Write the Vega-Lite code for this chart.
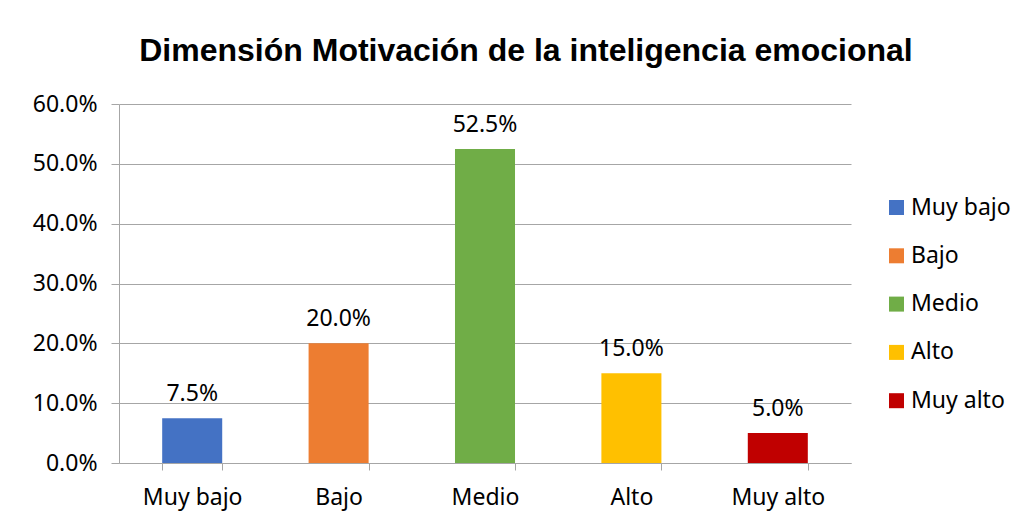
{
  "$schema": "https://vega.github.io/schema/vega-lite/v6.json",
  "autosize": "none",
  "width": 732,
  "height": 359,
  "padding": {"left": 119, "top": 104, "right": 176, "bottom": 59},
  "background": "white",
  "title": {
    "text": "Dimensión Motivación de la inteligencia emocional",
    "font": "Liberation Sans",
    "fontSize": 32,
    "fontWeight": "bold",
    "color": "#000000",
    "anchor": "middle",
    "frame": "group",
    "offset": 25,
    "dx": 41
  },
  "data": {
    "values": [
      {"categoria": "Muy bajo", "porcentaje": 0.075},
      {"categoria": "Bajo", "porcentaje": 0.20},
      {"categoria": "Medio", "porcentaje": 0.525},
      {"categoria": "Alto", "porcentaje": 0.15},
      {"categoria": "Muy alto", "porcentaje": 0.05}
    ]
  },
  "encoding": {
    "x": {
      "field": "categoria",
      "type": "nominal",
      "sort": ["Muy bajo", "Bajo", "Medio", "Alto", "Muy alto"],
      "scale": {"paddingInner": 0.59, "paddingOuter": 0.295},
      "axis": {
        "title": null,
        "labelAngle": 0,
        "labelFont": "Noto Sans",
        "labelFontSize": 23,
        "labelColor": "#000000",
        "tickBand": "extent",
        "tickSize": 7,
        "tickColor": "#a6a6a6",
        "domainColor": "#a6a6a6",
        "labelPadding": 16,
        "grid": false
      }
    },
    "y": {
      "field": "porcentaje",
      "type": "quantitative",
      "scale": {"domain": [0, 0.6]},
      "axis": {
        "title": null,
        "values": [0, 0.1, 0.2, 0.3, 0.4, 0.5, 0.6],
        "format": ".1%",
        "labelFont": "Noto Sans",
        "labelFontSize": 23,
        "labelColor": "#000000",
        "tickSize": 8,
        "tickColor": "#a6a6a6",
        "domainColor": "#a6a6a6",
        "gridColor": "#a6a6a6",
        "labelPadding": 14,
        "grid": true
      }
    }
  },
  "layer": [
    {
      "mark": {"type": "bar"},
      "encoding": {
        "color": {
          "field": "categoria",
          "type": "nominal",
          "sort": ["Muy bajo", "Bajo", "Medio", "Alto", "Muy alto"],
          "scale": {
            "domain": ["Muy bajo", "Bajo", "Medio", "Alto", "Muy alto"],
            "range": ["#4472C4", "#ED7D31", "#70AD47", "#FFC000", "#C00000"]
          },
          "legend": {
            "title": null,
            "orient": "none",
            "legendX": 766,
            "legendY": 92,
            "symbolType": "square",
            "symbolSize": 225,
            "symbolStrokeWidth": 0,
            "labelFont": "Noto Sans",
            "labelFontSize": 23,
            "labelColor": "#000000",
            "labelOffset": 3,
            "rowPadding": 24.3
          }
        }
      }
    },
    {
      "mark": {
        "type": "text",
        "baseline": "alphabetic",
        "dy": -17,
        "font": "Noto Sans",
        "fontSize": 23,
        "color": "#000000"
      },
      "encoding": {
        "text": {"field": "porcentaje", "type": "quantitative", "format": ".1%"}
      }
    }
  ],
  "config": {
    "view": {"stroke": null}
  }
}
